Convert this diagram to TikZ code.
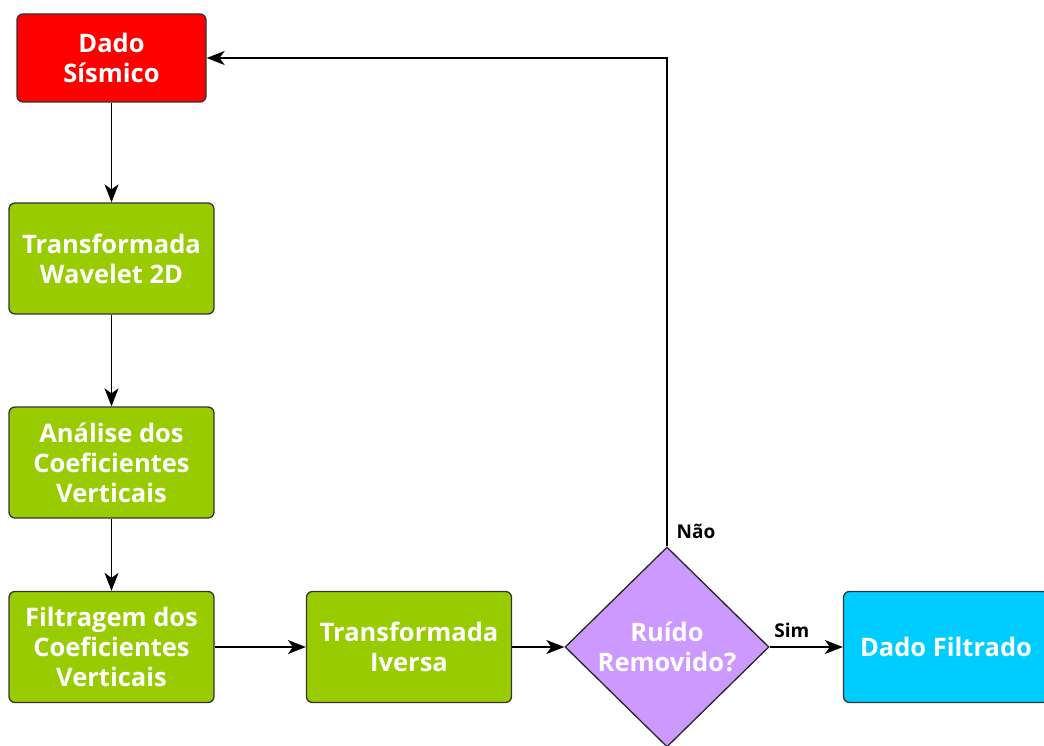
\documentclass[tikz,border=0pt]{standalone}
\usepackage{fontspec}
\setmainfont{Open Sans}
\usetikzlibrary{arrows.meta,shapes.geometric}
\tikzset{
    etapa/.style={draw=black!80, line width=1.3pt, rounded corners=6pt, align=center,
        text=white, font=\fontsize{25.5}{30}\selectfont\bfseries,
        minimum width=205pt, minimum height=111pt, inner sep=0pt},
    decisao/.style={diamond, draw=black!85, line width=1.3pt,
        minimum width=204pt, minimum height=200pt, inner sep=0pt},
    seta/.style={line width=1.4pt, -{Stealth[length=18pt,width=14pt,inset=5pt]}},
    rotulo/.style={font=\fontsize{19}{20}\selectfont\bfseries, inner sep=0pt}
}
\definecolor{vermelho}{HTML}{FF0000}
\definecolor{verde}{HTML}{99CC00}
\definecolor{lilas}{HTML}{CC99FF}
\definecolor{ciano}{HTML}{00CCFF}
\begin{document}
\begin{tikzpicture}[x=1pt,y=-1pt]
    \useasboundingbox (0,0) rectangle (1044,746);
    \clip (0,0) rectangle (1044,746);

    \node[etapa, fill=vermelho, minimum width=189pt, minimum height=88pt] (dado) at (111.5,58) {Dado\\Sísmico};
    \node[etapa, fill=verde] (wavelet) at (111.5,258.5) {Transformada\\Wavelet 2D};
    \node[etapa, fill=verde] (analise) at (111.5,462.5) {Análise dos\\Coeficientes\\Verticais};
    \node[etapa, fill=verde] (filtragem) at (111.5,647) {Filtragem dos\\Coeficientes\\Verticais};
    \node[etapa, fill=verde] (inversa) at (409,647) {Transformada\\Iversa};
    \node[decisao, fill=lilas] (ruido) at (667,647) {};
    \node[align=center, text=white, font=\fontsize{25.5}{30}\selectfont\bfseries] (ruidotxt) at (ruido) {Ruído\\Removido?};
    \node[etapa, fill=ciano] (filtrado) at (946,647) {Dado Filtrado};

    \draw[seta] (dado) -- (wavelet);
    \draw[seta] (wavelet) -- (analise);
    \draw[seta] (analise) -- (filtragem);
    \draw[seta] (filtragem) -- (inversa);
    \draw[seta] (inversa) -- (ruido);
    \draw[seta] (ruido) -- (filtrado)
        node[rotulo, pos=0, anchor=south west, xshift=4pt, yshift=9pt] {Sim};
    \draw[seta] (ruido.north) |- (dado.east)
        node[rotulo, pos=0, anchor=south west, xshift=9pt, yshift=7pt] {Não};
\end{tikzpicture}
\end{document}
